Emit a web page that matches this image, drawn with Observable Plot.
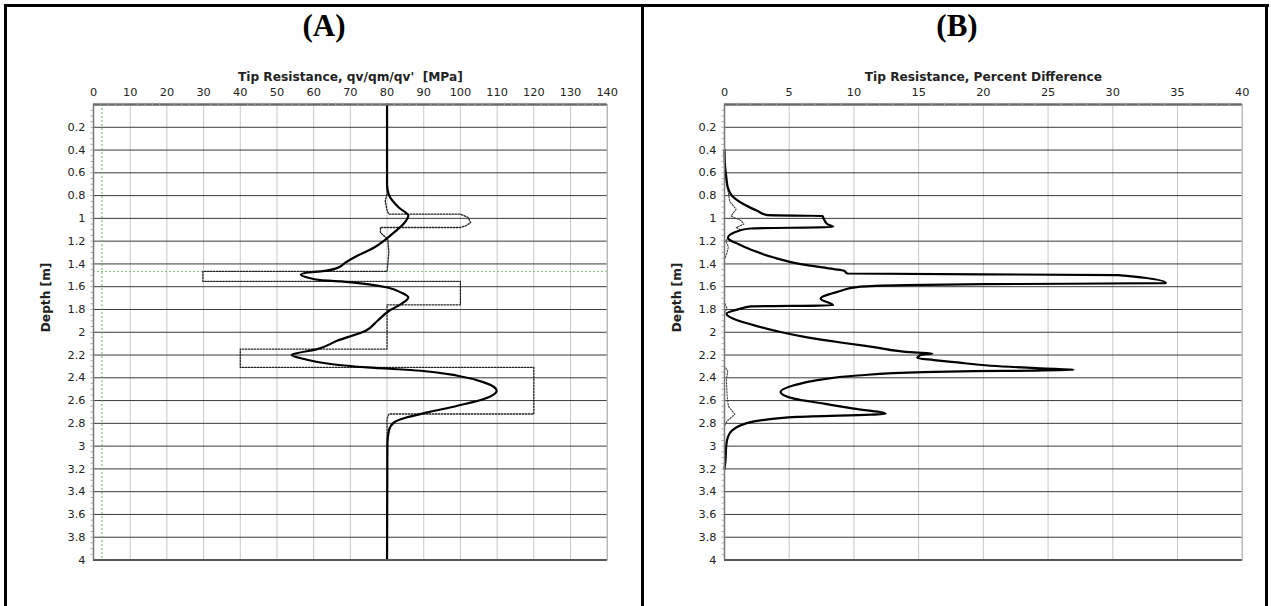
<!DOCTYPE html>
<html>
<head>
<meta charset="utf-8">
<script src="https://cdn.jsdelivr.net/npm/d3@7"></script>
<script src="https://cdn.jsdelivr.net/npm/@observablehq/plot@0.6"></script>
<style>
  html, body { margin: 0; padding: 0; background: #fff; }
  body { width: 1271px; height: 606px; position: relative; overflow: hidden; }
  .panel { position: absolute; top: 0; }
  .title { position: absolute; top: 10px; font-family: "Liberation Serif", "Times New Roman", serif; font-weight: bold; font-size: 31px; line-height: 31px; text-align: center; color: #000; }
  .bl { position: absolute; background: #000; z-index: 5; }
</style>
</head>
<body>
<div class="bl" style="left:4px; top:4px; width:1265px; height:3px;"></div>
<div class="bl" style="left:4px; top:4px; width:3px; height:602px;"></div>
<div class="bl" style="left:1265px; top:4px; width:3px; height:602px;"></div>
<div class="bl" style="left:641px; top:4px; width:3px; height:602px;"></div>
<div class="title" style="left:7px; width:634px;">(A)</div>
<div class="title" style="left:644px; width:626px;">(B)</div>
<div id="pa" class="panel" style="left:0px;"></div>
<div id="pb" class="panel" style="left:640px;"></div>
<script>
// ---------- tick labels ----------
const depthTicks = [0.2,0.4,0.6,0.8,1,1.2,1.4,1.6,1.8,2,2.2,2.4,2.6,2.8,3,3.2,3.4,3.6,3.8,4];
const depthMinor = [0.05,0.1,0.15,0.2,0.25,0.3,0.35,0.4,0.45,0.5,0.55,0.6,0.65,0.7,0.75,0.8,0.85,0.9,0.95,1,1.05,1.1,1.15,1.2,1.25,1.3,1.35,1.4,1.45,1.5,1.55,1.6,1.65,1.7,1.75,1.8,1.85,1.9,1.95,2,2.05,2.1,2.15,2.2,2.25,2.3,2.35,2.4,2.45,2.5,2.55,2.6,2.65,2.7,2.75,2.8,2.85,2.9,2.95,3,3.05,3.1,3.15,3.2,3.25,3.3,3.35,3.4,3.45,3.5,3.55,3.6,3.65,3.7,3.75,3.8,3.85,3.9,3.95];
const aTicks = [0,10,20,30,40,50,60,70,80,90,100,110,120,130,140];
const aMinor = [2,4,6,8,12,14,16,18,22,24,26,28,32,34,36,38,42,44,46,48,52,54,56,58,62,64,66,68,72,74,76,78,82,84,86,88,92,94,96,98,102,104,106,108,112,114,116,118,122,124,126,128,132,134,136,138];
const bTicks = [0,5,10,15,20,25,30,35,40];
const bMinor = [1,2,3,4,6,7,8,9,11,12,13,14,16,17,18,19,21,22,23,24,26,27,28,29,31,32,33,34,36,37,38,39];

// ---------- Panel A : tip resistance [MPa] ----------
const aSolidDepth = [0,0.7,0.794,0.905,0.978,1.051,1.11,1.19,1.256,1.329,1.387,1.437,1.466,1.475,1.496,1.519,1.542,1.554,1.577,1.607,1.651,1.694,1.753,1.811,1.899,1.987,2.075,2.148,2.191,2.2,2.235,2.279,2.309,2.338,2.382,2.44,2.513,2.586,2.645,2.704,2.747,2.791,2.864,2.98,4];
const aSolidValue = [80,80,80.5,83.2,85.8,84.4,82.4,79.4,76.5,71.9,68.7,66.3,61.9,58.3,56.5,58.3,61.9,67.4,74.6,80.1,83.8,85.8,83.8,80.6,77.4,74.2,66.4,61,54.6,54,57.4,64.6,74.6,89.2,99.2,106.4,109.9,106.4,99.2,91,85.5,81.9,80.5,80.1,80];

const aDotDepth = [0,0.78,0.85,0.93,0.963,0.963,0.99,1.036,1.065,1.08,1.08,1.126,1.184,1.3,1.466,1.466,1.554,1.554,1.759,1.759,2.148,2.148,2.309,2.309,2.718,2.718,2.76,4];
const aDotValue = [80,80,79.5,80,80.5,100,102,102.8,101.5,100,78.2,78.2,80.2,80.5,80,29.8,29.8,100,100,80,80,40,40,120,120,80.5,80,80];

const aGreenX = [2.3];       // vertical green dotted reference
const aGreenDepth = [1.466]; // horizontal green dotted reference

// ---------- Panel B : percent difference ----------
const bSolidDepth = [0.4,0.55,0.65,0.73,0.803,0.876,0.934,0.972,0.978,1.007,1.05,1.075,1.089,1.104,1.168,1.183,1.227,1.285,1.344,1.402,1.446,1.46,1.484,1.498,1.568,1.578,1.586,1.6,1.645,1.69,1.705,1.764,1.773,1.793,1.837,1.895,1.954,1.998,2.045,2.09,2.13,2.177,2.186,2.2,2.227,2.244,2.265,2.294,2.317,2.33,2.337,2.342,2.35,2.38,2.42,2.466,2.525,2.583,2.627,2.671,2.715,2.744,2.774,2.818,2.862,2.92,3.0,3.12,3.2];
const bSolidValue = [0,0.05,0.15,0.26,0.59,1.49,2.53,3.3,7.55,7.68,7.94,8.4,2.01,1.24,0.26,0.33,1.11,2.27,3.8,5.88,8.45,9.23,9.49,30.4,34.1,20,14,10.5,8.72,7.55,7.43,8.4,2.01,1.24,0.15,0.98,2.78,4.33,6.39,8.97,11.55,14.65,16.06,15.15,14.9,16.19,18,20.57,24.4,27,24,19.3,15.4,10.26,7.17,5.36,4.33,5.36,7.68,10,12.45,5.62,2.78,1.24,0.59,0.26,0.13,0.08,0];

const bDotDepth = [0.6,0.78,0.85,0.92,0.98,1.02,1.05,1.08,1.1,1.15,1.2,1.25,1.3,1.36,1.74,1.79,1.83,2.3,2.34,2.42,2.55,2.65,2.72,2.78,2.82];
const bDotValue = [0,0.3,0.4,0.9,0.5,1.3,1.5,0.9,1.2,0.4,0.1,0.3,0.2,0,0,0.2,0,0,0.25,0.15,0.2,0.3,0.8,0.2,0];

// ---------- helpers ----------
const FONT = "DejaVu Sans, Verdana, sans-serif";
const pairs = (ds, vs) => ds.map((d, i) => ({depth: d, v: vs[i]}));

function panel({xDomain, xTicks, xMinor, xLabel, width, marginLeft, marginRight, series, extra}) {
  const plotTicks = depthTicks.filter(d => d < 4);
  return Plot.plot({
    width, height: 606,
    marginLeft, marginRight, marginTop: 104, marginBottom: 46.5,
    style: {fontFamily: FONT, fontSize: "11.3px", color: "#222", background: "transparent"},
    x: {domain: xDomain},
    y: {domain: [0, 4], reverse: true},
    marks: [
      Plot.ruleX(xTicks.filter(t => t > xDomain[0] && t < xDomain[1]), {stroke: "#c8c8c8", strokeWidth: 1}),
      Plot.ruleY(plotTicks, {stroke: "#3a3a3a", strokeWidth: 1}),
      ...(extra || []),
      ...series,
      Plot.frame({stroke: "#9a9a9a", strokeWidth: 1}),
      Plot.ruleY([0], {stroke: "#6a6a6a", strokeWidth: 2.5}),
      Plot.ruleY([4], {stroke: "#555", strokeWidth: 2}),
      Plot.ruleX([xDomain[0]], {stroke: "#777", strokeWidth: 1.5}),
      Plot.axisX({anchor: "top", ticks: xTicks, tickSize: 0, tickPadding: 9, label: null, tickFormat: d => String(d)}),
      Plot.axisX({anchor: "top", ticks: xMinor, tickSize: 2.5, text: null, stroke: "#aaa", label: null}),
      Plot.axisY({anchor: "left", ticks: depthTicks, tickSize: 0, tickPadding: 8, label: null, tickFormat: d => String(d)}),
      Plot.axisY({anchor: "left", ticks: depthMinor, tickSize: 2.5, text: null, stroke: "#aaa", label: null}),
      Plot.text([xLabel], {frameAnchor: "top", dy: -32, fontWeight: "bold", fontSize: 12.2, fill: "#222"}),
      Plot.text(["Depth [m]"], {frameAnchor: "left", dx: -47, rotate: -90, fontWeight: "bold", fontSize: 12.2, fill: "#222"})
    ]
  });
}

const plotA = panel({
  xDomain: [0, 140], xTicks: aTicks, xMinor: aMinor,
  xLabel: "Tip Resistance, qv/qm/qv'  [MPa]",
  width: 640, marginLeft: 93, marginRight: 33.3,
  extra: [
    Plot.ruleX(aGreenX, {stroke: "#6ab06a", strokeWidth: 1, strokeDasharray: "2,2"}),
    Plot.ruleY(aGreenDepth, {stroke: "#7cc07c", strokeWidth: 1, strokeDasharray: "2,2"})
  ],
  series: [
    Plot.line(pairs(aDotDepth, aDotValue), {x: "v", y: "depth", stroke: "#222", strokeWidth: 1.3, strokeDasharray: "1.5,1.5", curve: "linear"}),
    Plot.line(pairs(aSolidDepth, aSolidValue), {x: "v", y: "depth", stroke: "#000", strokeWidth: 2.2, curve: "monotone-y"})
  ]
});
document.getElementById("pa").appendChild(plotA);

const plotB = panel({
  xDomain: [0, 40], xTicks: bTicks, xMinor: bMinor,
  xLabel: "Tip Resistance, Percent Difference",
  width: 631, marginLeft: 84, marginRight: 29.3,
  series: [
    Plot.line(pairs(bDotDepth, bDotValue), {x: "v", y: "depth", stroke: "#444", strokeWidth: 1.1, strokeDasharray: "1.5,1.5", curve: "linear"}),
    Plot.line(pairs(bSolidDepth, bSolidValue), {x: "v", y: "depth", stroke: "#000", strokeWidth: 2.2, curve: "monotone-y"})
  ]
});
document.getElementById("pb").appendChild(plotB);
</script>
</body>
</html>
